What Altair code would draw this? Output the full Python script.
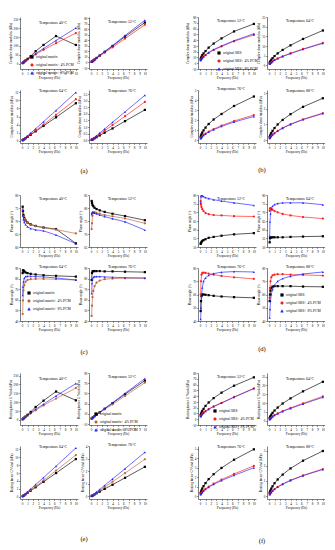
import altair as alt
import pandas as pd

# ---------------- data ----------------
freq = [0.1, 0.158, 0.251, 0.398, 0.631, 1.0, 1.585, 2.512, 3.981, 6.31, 10.0]

names_matrix = ["original matrix", "original matrix+ 4% PCM", "original matrix+ 8% PCM"]
names_sbs = ["original SBS", "original SBS+ 4% PCM", "original SBS+ 8% PCM"]

temps_ace = [40, 52, 64, 76]
temps_bdf = [52, 64, 76, 88]

# (a) complex shear modulus, matrix
a1_s0 = [3, 5, 8, 12, 18, 27, 42, 70, 105, 155, 105]
a1_s1 = [3, 4, 7, 10, 15, 23, 34, 52, 78, 115, 172]
a1_s2 = [3, 5, 7, 11, 16, 25, 37, 57, 85, 130, 200]
a2_s0 = [0.9, 1.4, 2.2, 3.4, 5.2, 8.0, 12.3, 19.0, 29.5, 46.5, 72]
a2_s1 = [0.8, 1.3, 2.0, 3.1, 4.8, 7.4, 11.4, 17.6, 27.2, 43.0, 68]
a2_s2 = [0.9, 1.4, 2.2, 3.4, 5.3, 8.2, 12.6, 19.5, 30.5, 48.5, 76]
a3_s0 = [0.1, 0.15, 0.24, 0.37, 0.58, 0.92, 1.45, 2.3, 3.65, 5.8, 9.3]
a3_s1 = [0.1, 0.16, 0.26, 0.4, 0.63, 1.0, 1.58, 2.5, 3.98, 6.4, 10.3]
a3_s2 = [0.12, 0.19, 0.3, 0.47, 0.75, 1.18, 1.87, 2.95, 4.7, 7.5, 12.0]
a4_s0 = [0.03, 0.05, 0.07, 0.1, 0.16, 0.24, 0.37, 0.58, 0.9, 1.45, 2.3]
a4_s1 = [0.03, 0.05, 0.08, 0.12, 0.19, 0.3, 0.46, 0.73, 1.15, 1.82, 2.9]
a4_s2 = [0.04, 0.06, 0.09, 0.14, 0.22, 0.35, 0.55, 0.86, 1.36, 2.15, 3.4]

# (b) complex shear modulus, SBS
b1_s0 = [7, 9, 11, 14, 17, 21, 27, 34, 43, 55, 68]
b1_s1 = [5, 6, 7.5, 9, 11, 14, 18, 23, 29, 38, 49]
b1_s2 = [5, 6, 7.5, 9, 11.5, 14.5, 18.5, 23.5, 30, 39, 51]
b2_s0 = [1.2, 1.6, 2.1, 2.8, 3.6, 4.7, 6.1, 7.9, 10.3, 13.6, 18.0]
b2_s1 = [0.6, 0.8, 1.1, 1.5, 2.0, 2.7, 3.5, 4.6, 6.2, 8.4, 11.6]
b2_s2 = [0.55, 0.75, 1.05, 1.4, 1.9, 2.6, 3.4, 4.5, 6.0, 8.2, 11.3]
b3_s0 = [0.3, 0.42, 0.56, 0.74, 0.96, 1.24, 1.6, 2.05, 2.6, 3.4, 4.35]
b3_s1 = [0.17, 0.22, 0.29, 0.38, 0.5, 0.65, 0.85, 1.1, 1.45, 1.9, 2.5]
b3_s2 = [0.15, 0.2, 0.27, 0.35, 0.46, 0.6, 0.79, 1.03, 1.36, 1.8, 2.35]
b4_s0 = [0.18, 0.25, 0.33, 0.44, 0.58, 0.76, 0.99, 1.28, 1.65, 2.12, 2.67]
b4_s1 = [0.1, 0.14, 0.19, 0.25, 0.33, 0.44, 0.58, 0.77, 1.01, 1.32, 1.72]
b4_s2 = [0.1, 0.14, 0.18, 0.24, 0.32, 0.43, 0.57, 0.75, 0.99, 1.3, 1.69]

# (c) phase angle, matrix
c1_s0 = [75.5, 73.8, 72.3, 71.2, 70.2, 69.4, 68.7, 68.1, 67.5, 66.9, 61.4]
c1_s1 = [74.5, 73.0, 71.8, 70.8, 70.0, 69.3, 68.6, 68.0, 67.4, 66.7, 65.2]
c1_s2 = [74.0, 72.0, 70.6, 69.5, 68.6, 67.8, 67.1, 66.6, 66.2, 64.6, 61.3]
c2_s0 = [82.7, 81.9, 81.2, 80.7, 80.1, 79.6, 79.1, 78.5, 77.8, 76.9, 75.3]
c2_s1 = [71.9, 74.1, 77.0, 78.1, 78.4, 78.1, 77.8, 77.3, 76.8, 76.0, 74.1]
c2_s2 = [77.6, 78.1, 78.5, 78.4, 78.1, 77.8, 77.3, 76.7, 75.9, 74.7, 71.5]
c3_s0 = [85.2, 87.7, 87.7, 86.8, 85.8, 85.2, 84.5, 83.9, 83.2, 82.6, 81.9]
c3_s1 = [46.5, 59.4, 69.0, 73.9, 77.1, 78.7, 79.4, 79.7, 79.7, 79.4, 78.7]
c3_s2 = [64.2, 72.3, 77.1, 80.3, 81.9, 82.3, 82.3, 81.9, 81.6, 80.6, 78.7]
c4_s0 = [78.7, 85.2, 86.8, 87.1, 87.1, 87.1, 87.1, 86.8, 86.8, 86.5, 86.1]
c4_s1 = [44.8, 54.5, 62.6, 68.4, 72.9, 76.1, 78.1, 79.4, 80.0, 80.3, 80.3]
c4_s2 = [65.8, 75.5, 79.4, 81.3, 81.9, 81.9, 81.9, 81.6, 81.3, 80.9, 80.6]

# (d) phase angle, SBS
d1_s0 = [51.8, 52.4, 52.9, 53.5, 54.0, 54.5, 55.3, 55.8, 56.5, 57.3, 58.0]
d1_s1 = [76.4, 74.5, 73.1, 71.8, 70.7, 69.6, 68.9, 68.4, 68.2, 67.8, 67.6]
d1_s2 = [75.5, 79.1, 80.0, 79.6, 79.1, 78.5, 78.0, 77.3, 76.5, 75.5, 74.0]
d2_s0 = [52.7, 55.1, 55.5, 55.5, 55.6, 55.6, 55.6, 55.6, 55.8, 56.0, 56.2]
d2_s1 = [70.9, 72.2, 72.5, 72.2, 71.5, 70.7, 70.0, 69.1, 68.2, 67.3, 66.4]
d2_s2 = [56.4, 64.5, 69.1, 71.8, 73.6, 74.5, 75.1, 75.5, 75.5, 75.5, 74.4]
d3_s0 = [47.5, 55.0, 58.8, 60.0, 60.0, 59.8, 59.5, 59.0, 58.5, 58.0, 57.5]
d3_s1 = [60.0, 70.0, 75.0, 76.3, 76.5, 76.3, 75.8, 75.0, 74.0, 73.0, 71.8]
d3_s2 = [41.3, 50.0, 58.8, 65.0, 70.0, 72.5, 74.5, 75.8, 76.8, 77.3, 77.0]
d4_s0 = [55.0, 60.0, 63.0, 65.0, 66.0, 66.3, 66.3, 66.3, 66.3, 66.0, 65.8]
d4_s1 = [57.5, 65.0, 70.0, 73.0, 74.5, 75.0, 75.3, 75.3, 75.0, 74.8, 74.3]
d4_s2 = [42.5, 48.8, 55.0, 60.0, 63.8, 67.0, 70.0, 72.0, 73.8, 75.5, 77.0]

# (e) rutting factor, matrix
e1_s0 = [3, 5, 8, 12, 18, 28, 44, 72, 108, 160, 110]
e1_s1 = [3, 4, 7, 10, 15, 23, 35, 54, 81, 120, 180]
e1_s2 = [3, 5, 7, 11, 16, 25, 38, 59, 88, 135, 205]
e2_s0 = [0.9, 1.4, 2.2, 3.5, 5.4, 8.3, 12.8, 19.8, 30.8, 48.5, 75]
e2_s1 = [0.85, 1.3, 2.05, 3.2, 5.0, 7.7, 11.9, 18.4, 28.5, 45, 71]
e2_s2 = [0.9, 1.45, 2.25, 3.5, 5.5, 8.5, 13.1, 20.3, 31.7, 50.2, 79]
e3_s0 = [0.1, 0.16, 0.25, 0.38, 0.6, 0.95, 1.5, 2.37, 3.75, 5.95, 9.5]
e3_s1 = [0.11, 0.17, 0.27, 0.42, 0.66, 1.04, 1.64, 2.6, 4.1, 6.6, 10.5]
e3_s2 = [0.12, 0.19, 0.31, 0.48, 0.77, 1.21, 1.92, 3.05, 4.8, 7.7, 12.3]
e4_s0 = [0.03, 0.05, 0.07, 0.11, 0.16, 0.25, 0.38, 0.6, 0.93, 1.48, 2.35]
e4_s1 = [0.03, 0.05, 0.08, 0.12, 0.19, 0.3, 0.47, 0.74, 1.17, 1.85, 2.95]
e4_s2 = [0.04, 0.06, 0.09, 0.14, 0.22, 0.36, 0.56, 0.88, 1.39, 2.2, 3.5]

# (f) rutting factor, SBS
f1_s0 = [7, 9, 11.5, 14.5, 18, 23, 29, 36.5, 46, 58, 72.5]
f1_s1 = [5, 6, 7.5, 9.2, 11.3, 14, 17.6, 22.3, 28.4, 38.5, 53.5]
f1_s2 = [4.7, 5.7, 7.1, 8.8, 10.9, 13.6, 17.2, 21.9, 28, 38, 53]
f2_s0 = [1.4, 1.9, 2.5, 3.3, 4.4, 5.7, 7.4, 9.7, 12.6, 16.6, 22]
f2_s1 = [0.7, 0.95, 1.3, 1.75, 2.35, 3.1, 4.1, 5.4, 7.2, 9.8, 13.7]
f2_s2 = [0.65, 0.9, 1.2, 1.65, 2.2, 3.0, 3.9, 5.2, 6.9, 9.4, 13.2]
f3_s0 = [0.32, 0.45, 0.61, 0.81, 1.06, 1.38, 1.8, 2.32, 2.98, 3.85, 4.95]
f3_s1 = [0.2, 0.26, 0.34, 0.45, 0.59, 0.77, 1.0, 1.32, 1.75, 2.35, 3.2]
f3_s2 = [0.18, 0.24, 0.32, 0.42, 0.55, 0.72, 0.95, 1.25, 1.65, 2.2, 3.0]
f4_s0 = [0.2, 0.28, 0.37, 0.49, 0.64, 0.84, 1.09, 1.41, 1.82, 2.33, 2.97]
f4_s1 = [0.1, 0.14, 0.19, 0.26, 0.34, 0.46, 0.6, 0.79, 1.04, 1.36, 1.78]
f4_s2 = [0.1, 0.14, 0.19, 0.25, 0.33, 0.45, 0.59, 0.78, 1.02, 1.34, 1.75]

sub_labels = ["(a)", "(b)", "(c)", "(d)", "(e)", "(f)"]

ytitle_g = "Complex shear modulus (kPa)"
ytitle_p = "Phase angle (°)"
ytitle_r = "Rutting factor G*/sinδ (kPa)"

# ---------------- styling / layout ----------------
FONT = "Liberation Serif"
W = 58
H_TOP = 52
H_BOT = 53
COL_GAP = 11      # gap between neighbouring plot areas (columns)
ROW_GAP = 21      # gap between neighbouring plot areas (rows)
SPACER_W = 29     # extra column between the two sub-figures
SPACER_H = 10     # extra row between the sub-figure rows

RED = "#ff1a1a"
BLUE = "#1f1fff"
BROWN = "#c0603a"
SHAPES = ["square", "circle", "triangle-up"]


def panel(series, names, colors, temp, ytitle, domain, ticks, height, top_row,
          legend_xy=None, label=None, label_dy=29):
    rows = []
    for name, vals in zip(names, series):
        for f, v in zip(freq, vals):
            rows.append({"f": f, "v": v, "s": name})
    df = pd.DataFrame(rows)
    if legend_xy is not None:
        leg = alt.Legend(orient="none", legendX=legend_xy[0], legendY=legend_xy[1], title=None,
                         labelFont=FONT, labelFontSize=3.6, symbolSize=7, symbolStrokeWidth=0.5,
                         rowPadding=2.0, labelLimit=300, padding=0, labelOffset=2)
    else:
        leg = None
    color = alt.Color("s:N", scale=alt.Scale(domain=names, range=colors), legend=leg)
    shape = alt.Shape("s:N", scale=alt.Scale(domain=names, range=SHAPES), legend=leg)
    x = alt.X("f:Q", scale=alt.Scale(domain=[-0.4, 10.4], nice=False),
              axis=alt.Axis(values=list(range(11)), title="Frequency (Hz)", format="d"))
    y = alt.Y("v:Q", scale=alt.Scale(domain=domain, nice=False, zero=False),
              axis=alt.Axis(values=ticks, title=ytitle))
    base = alt.Chart(df)
    line = base.mark_line(strokeWidth=0.65, clip=True).encode(x=x, y=y, color=color, detail="s:N")
    pts = base.mark_point(filled=True, size=5, clip=True, opacity=1).encode(
        x=x, y=y, color=color, shape=shape)
    layers = [line, pts]
    if label is not None:
        lab = alt.Chart(pd.DataFrame({"t": [label]})).mark_text(
            font=FONT, fontSize=6.5, align="center", baseline="middle", color="#000"
        ).encode(text="t:N", x=alt.value(-5), y=alt.value(height + label_dy))
        layers.append(lab)
    title = alt.TitleParams(f"Temperature {temp}°C", fontSize=3.8, font=FONT, fontWeight="normal",
                            offset=-8 if top_row else -3, anchor="middle", dx=4)
    return alt.layer(*layers).properties(width=W, height=height, title=title)


def spacer(w, h):
    return alt.Chart(pd.DataFrame({"z": [0]})).mark_point(opacity=0).encode(
        x=alt.value(0), y=alt.value(0)).properties(width=w, height=h)


col_m = ["#000000", RED, BLUE]
col_mb = ["#000000", BROWN, BLUE]

A = [
    panel([a1_s0, a1_s1, a1_s2], names_matrix, col_m, temps_ace[0], ytitle_g, [-30, 262], [0, 50, 100, 150, 200, 250], H_TOP, True, (10, 38)),
    panel([a2_s0, a2_s1, a2_s2], names_matrix, col_m, temps_ace[1], ytitle_g, [-12, 82], [-10, 0, 10, 20, 30, 40, 50, 60, 70, 80], H_TOP, True),
    panel([a3_s0, a3_s1, a3_s2], names_matrix, col_m, temps_ace[2], ytitle_g, [-0.6, 12.6], [0, 2, 4, 6, 8, 10, 12], H_BOT, False),
    panel([a4_s0, a4_s1, a4_s2], names_matrix, col_m, temps_ace[3], ytitle_g, [-0.2, 3.8], [0, 0.5, 1.0, 1.5, 2.0, 2.5, 3.0, 3.5], H_BOT, False, label=sub_labels[0], label_dy=28),
]
B = [
    panel([b1_s0, b1_s1, b1_s2], names_sbs, col_m, temps_bdf[0], ytitle_g, [-10, 80], [-10, 0, 10, 20, 30, 40, 50, 60, 70, 80], H_TOP, True, (19, 34)),
    panel([b2_s0, b2_s1, b2_s2], names_sbs, col_m, temps_bdf[1], ytitle_g, [-2, 25], [0, 5, 10, 15, 20, 25], H_TOP, True),
    panel([b3_s0, b3_s1, b3_s2], names_sbs, col_m, temps_bdf[2], ytitle_g, [-0.3, 5.0], [0, 1, 2, 3, 4, 5], H_BOT, False),
    panel([b4_s0, b4_s1, b4_s2], names_sbs, col_m, temps_bdf[3], ytitle_g, [-0.2, 3.2], [0, 1, 2, 3], H_BOT, False, label=sub_labels[1], label_dy=27),
]
C = [
    panel([c1_s0, c1_s1, c1_s2], names_matrix, col_mb, temps_ace[0], ytitle_p, [60, 80], [60, 65, 70, 75, 80], H_TOP, True),
    panel([c2_s0, c2_s1, c2_s2], names_matrix, col_mb, temps_ace[1], ytitle_p, [65, 85], [65, 70, 75, 80, 85], H_TOP, True),
    panel([c3_s0, c3_s1, c3_s2], names_matrix, col_mb, temps_ace[2], ytitle_p, [40, 90], [40, 50, 60, 70, 80, 90], H_BOT, False, (7, 23)),
    panel([c4_s0, c4_s1, c4_s2], names_matrix, col_mb, temps_ace[3], ytitle_p, [40, 90], [40, 50, 60, 70, 80, 90], H_BOT, False, label=sub_labels[2], label_dy=31),
]
D = [
    panel([d1_s0, d1_s1, d1_s2], names_sbs, col_m, temps_bdf[0], ytitle_p, [50, 80], [50, 55, 60, 65, 70, 75, 80], H_TOP, True),
    panel([d2_s0, d2_s1, d2_s2], names_sbs, col_m, temps_bdf[1], ytitle_p, [50, 80], [50, 55, 60, 65, 70, 75, 80], H_TOP, True),
    panel([d3_s0, d3_s1, d3_s2], names_sbs, col_m, temps_bdf[2], ytitle_p, [40, 80], [40, 50, 60, 70, 80], H_BOT, False),
    panel([d4_s0, d4_s1, d4_s2], names_sbs, col_m, temps_bdf[3], ytitle_p, [40, 80], [40, 50, 60, 70, 80], H_BOT, False, (13, 25), label=sub_labels[3], label_dy=28),
]
E = [
    panel([e1_s0, e1_s1, e1_s2], names_matrix, col_mb, temps_ace[0], ytitle_r, [-30, 265], [0, 50, 100, 150, 200, 250], H_TOP, True),
    panel([e2_s0, e2_s1, e2_s2], names_matrix, col_mb, temps_ace[1], ytitle_r, [-12, 90], [-10, 10, 30, 50, 70, 90], H_TOP, True, (5, 39)),
    panel([e3_s0, e3_s1, e3_s2], names_matrix, col_mb, temps_ace[2], ytitle_r, [-0.6, 12.8], [0, 2, 4, 6, 8, 10, 12], H_BOT, False),
    panel([e4_s0, e4_s1, e4_s2], names_matrix, col_mb, temps_ace[3], ytitle_r, [-0.2, 4.0], [0, 1, 2, 3, 4], H_BOT, False, label=sub_labels[4], label_dy=40),
]
F = [
    panel([f1_s0, f1_s1, f1_s2], names_sbs, col_m, temps_bdf[0], ytitle_r, [-10, 80], [-10, 0, 10, 20, 30, 40, 50, 60, 70, 80], H_TOP, True, (15, 36)),
    panel([f2_s0, f2_s1, f2_s2], names_sbs, col_m, temps_bdf[1], ytitle_r, [-2.5, 27], [0, 5, 10, 15, 20, 25], H_TOP, True),
    panel([f3_s0, f3_s1, f3_s2], names_sbs, col_m, temps_bdf[2], ytitle_r, [-0.3, 5.3], [0, 1, 2, 3, 4, 5], H_BOT, False),
    panel([f4_s0, f4_s1, f4_s2], names_sbs, col_m, temps_bdf[3], ytitle_r, [-0.2, 3.3], [0, 1, 2, 3], H_BOT, False, label=sub_labels[5], label_dy=42),
]

cells = []
pairs = [(A, B), (C, D), (E, F)]
for i, (L, R) in enumerate(pairs):
    cells += [L[0], L[1], spacer(SPACER_W, 1), R[0], R[1]]
    cells += [L[2], L[3], spacer(SPACER_W, 1), R[2], R[3]]
    if i < 2:
        cells += [spacer(W, SPACER_H) for _ in range(2)] + [spacer(SPACER_W, SPACER_H)] + [spacer(W, SPACER_H) for _ in range(2)]

chart = alt.concat(*cells, columns=5, spacing={"row": ROW_GAP, "column": COL_GAP},
                   bounds="flush", align="each").resolve_scale(
    color="independent", shape="independent"
).properties(
    padding={"left": 0, "top": 6, "right": 0, "bottom": 0}
).configure_view(stroke=None).configure_axis(
    labelFont=FONT, titleFont=FONT, labelFontSize=3.2, titleFontSize=3.4, titleFontWeight="normal",
    tickSize=1.5, tickWidth=0.4, domainWidth=0.5, domainColor="#000", tickColor="#000",
    labelColor="#000", titleColor="#000", labelPadding=0.6, titlePadding=1.0, grid=False,
    labelFlush=False, labelOverlap=False
).configure_title(color="#000")

chart.save("out.html", embed_options={"renderer": "svg", "actions": False})
